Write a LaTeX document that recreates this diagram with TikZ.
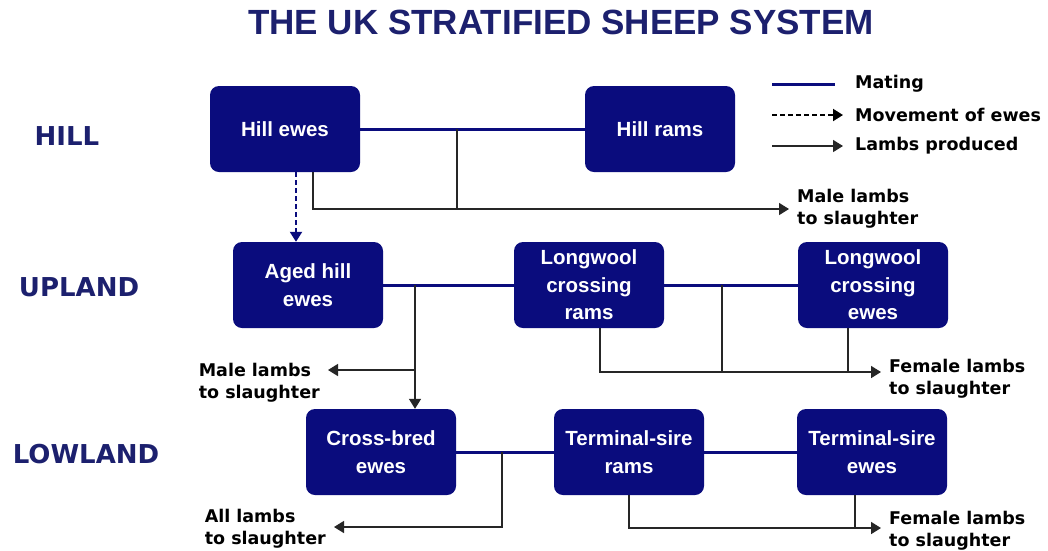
\documentclass[tikz,border=0pt]{standalone}
\usepackage{fontspec}
\setmainfont{DejaVu Sans}
\newfontfamily\titlefont{Liberation Sans}
\usetikzlibrary{arrows.meta}
\usetikzlibrary{calc}
\definecolor{navy}{RGB}{10,12,125}
\definecolor{titleblue}{RGB}{28,32,110}
\tikzset{
	flock/.style={fill=navy, text=white, rounded corners=9pt, minimum width=150pt, minimum height=86pt, align=center, font=\titlefont\bfseries\fontsize{20.5}{27.5}\selectfont},
	mating/.style={draw=navy, line width=3pt},
	move/.style={draw=navy, line width=2pt, dash pattern=on 5pt off 3pt, -{Triangle[length=10pt,width=12pt]}},
	lambs/.style={draw=black!85, line width=1.5pt, -{Triangle[length=10pt,width=12pt]}},
	lambline/.style={draw=black!85, line width=1.5pt},
	fate/.style={align=left, inner xsep=8pt, font=\bfseries\fontsize{17.5}{22}\selectfont},
	level/.style={text=titleblue, font=\bfseries\fontsize{26}{30}\selectfont},
	key/.style={anchor=west, inner xsep=0pt, font=\bfseries\fontsize{17.5}{20}\selectfont}
}

\begin{document}
\begin{tikzpicture}[x=1pt, y=-1pt]
	% page: 1048 x 550, y runs downwards
	\useasboundingbox[fill=white] (0, 0) rectangle (1048, 550);
	\node[text=titleblue, font=\titlefont\bfseries\fontsize{35}{40}\selectfont] (title) at (561, 22) {THE UK STRATIFIED SHEEP SYSTEM};

	% levels
	\node[level] (hill) at (67, 136) {HILL};
	\node[level] (upland) at (79, 287) {UPLAND};
	\node[level] (lowland) at (86, 454) {LOWLAND};

	% flocks
	\node[flock] (hillewes) at (285, 129) {Hill ewes};
	\node[flock] (hillrams) at (660, 129) {Hill rams};
	\node[flock] (agedewes) at (308, 285) {Aged hill\\ewes};
	\node[flock] (lwrams) at (589, 285) {Longwool\\crossing\\rams};
	\node[flock] (lwewes) at (873, 285) {Longwool\\crossing\\ewes};
	\node[flock] (crossewes) at (381, 452) {Cross-bred\\ewes};
	\node[flock] (tsrams) at (629, 452) {Terminal-sire\\rams};
	\node[flock] (tsewes) at (872, 452) {Terminal-sire\\ewes};

	% where the lambs go
	\node[fate, anchor=west] (hillmale) at (789, 209) {Male lambs\\to slaughter};
	\node[fate, anchor=east] (uplandmale) at (328, 383) {Male lambs\\to slaughter};
	\node[fate, anchor=west] (uplandfemale) at (881, 379) {Female lambs\\to slaughter};
	\node[fate, anchor=east] (lowlandall) at (334, 529) {All lambs\\to slaughter};
	\node[fate, anchor=west] (lowlandfemale) at (881, 531) {Female lambs\\to slaughter};

	% arrow ends beside the lamb texts
	\coordinate (uplandmaletip) at ([yshift=13pt]uplandmale.east);
	\coordinate (uplandfemaletip) at ([yshift=7pt]uplandfemale.west);
	\coordinate (lowlandalltip) at ([yshift=2pt]lowlandall.east);
	\coordinate (lowlandfemaletip) at ([yshift=3pt]lowlandfemale.west);

	% matings
	\draw[mating] (hillewes.east) -- (hillrams.west);
	\draw[mating] (agedewes.east) -- (lwrams.west);
	\draw[mating] (lwrams.east) -- (lwewes.west);
	\draw[mating] (crossewes.east) -- (tsrams.west);
	\draw[mating] (tsrams.east) -- (tsewes.west);

	% hill
	\coordinate (hilljoin) at (457, 129);
	\draw[lambs] ([xshift=28pt]hillewes.south) |- (hillmale.west);
	\draw[lambline] (hilljoin) -- (hilljoin |- hillmale.west);
	\draw[move] ([xshift=11pt]hillewes.south) -- ([xshift=11pt]hillewes.south |- agedewes.north);

	% upland
	\coordinate (agedjoin) at (415, 285);
	\coordinate (lwjoin) at (722, 285);
	\draw[lambs] (agedjoin) -- (agedjoin |- crossewes.north);
	\draw[lambs] (agedjoin |- uplandmaletip) -- (uplandmaletip);
	\draw[lambs] ([xshift=11pt]lwrams.south) |- (uplandfemaletip);
	\draw[lambline] (lwjoin) -- (lwjoin |- uplandfemaletip);
	\draw[lambline] ([xshift=-25pt]lwewes.south) -- ([xshift=-25pt]lwewes.south |- uplandfemaletip);

	% lowland
	\coordinate (crossjoin) at (502, 452);
	\draw[lambs] (crossjoin) |- (lowlandalltip);
	\draw[lambs] (tsrams.south) |- (lowlandfemaletip);
	\draw[lambline] ([xshift=-17pt]tsewes.south) -- ([xshift=-17pt]tsewes.south |- lowlandfemaletip);

	% key
	\node[key] (keymating) at (855, 84) {Mating};
	\node[key] (keymove) at (855, 115) {Movement of ewes};
	\node[key] (keylambs) at (855, 146) {Lambs produced};
	\coordinate (keyleft) at (772, 84);
	\draw[mating] (keyleft) -- ([xshift=-20pt]keymating.west);
	\draw[move, draw=black] (keyleft |- keymove.west) -- ([xshift=-12pt]keymove.west);
	\draw[lambs] (keyleft |- keylambs.west) -- ([xshift=-12pt]keylambs.west);
\end{tikzpicture}
\end{document}
